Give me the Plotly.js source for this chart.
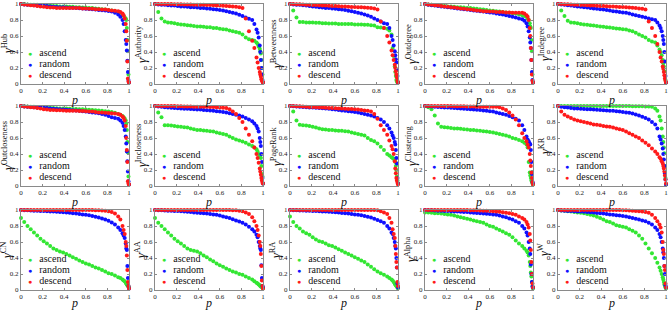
<!DOCTYPE html>
<html><head><meta charset="utf-8">
<script src="https://cdn.plot.ly/plotly-3.0.1.min.js"></script>
<style>html,body{margin:0;padding:0;background:#fff}#chart{width:668px;height:310px}</style>
</head><body><div id="chart"></div>
<script>
const P = [0,.03,.06,.09,.12,.15,.18,.21,.24,.27,.30,.33,.36,.39,.42,.45,.48,.51,.54,.57,.60,.63,.66,.69,.72,.75,.78,.81,.84,.87,.90,.92,.94,.95,.96,.97,.975,.98,.985,.99,.995,1];
const panelNames = ['Hub','Authority','Betweenness','Outdegree','Indegree','Outcloseness','Incloseness','PageRank','Clustering','KR','CN','AA','RA','Alpha','W'];
const seriesNames = ['ascend','random','descend'];
const tickVals = [0,0.2,0.4,0.6,0.8,1];
const tickText = ['0','0.2','0.4','0.6','0.8','1'];

const hubAscend = [1.0,1.0,.995,.99,.99,.99,.985,.98,.98,.98,.975,.975,.97,.97,.97,.965,.965,.96,.96,.955,.955,.95,.95,.945,.94,.935,.93,.925,.92,.91,.90,.89,.87,.85,.83,.82,.80,.70,.55,.41,.12,.02];
const hubRandom = [1.0,.995,.99,.988,.985,.982,.98,.977,.974,.97,.967,.964,.96,.958,.956,.954,.952,.95,.947,.944,.94,.937,.934,.93,.926,.922,.918,.913,.905,.89,.87,.84,.80,.75,.66,.55,.50,.42,.29,.15,.05,.02];
const hubDescend = [1.0,.995,.99,.985,.98,.975,.97,.965,.96,.955,.955,.95,.95,.95,.95,.95,.95,.95,.95,.945,.945,.94,.94,.935,.935,.93,.93,.925,.92,.915,.91,.90,.88,.86,.82,.75,.66,.54,.28,.07,.03,.02];

const authAscend = [1.0,.90,.82,.78,.77,.765,.76,.75,.745,.74,.735,.73,.725,.72,.72,.715,.71,.71,.70,.70,.69,.685,.68,.67,.66,.65,.64,.62,.58,.56,.55,.54,.52,.50,.47,.44,.41,.38,.30,.20,.12,.02];
const authRandom = [1.0,.995,.99,.99,.985,.98,.98,.975,.97,.97,.965,.96,.96,.955,.95,.95,.945,.94,.935,.93,.925,.92,.91,.90,.89,.88,.865,.85,.83,.815,.80,.75,.68,.64,.58,.48,.40,.30,.20,.12,.05,.02];
const authDescend = [1.0,1.0,1.0,1.0,1.0,1.0,.998,.997,.996,.995,.994,.993,.992,.99,.99,.99,.988,.986,.984,.982,.98,.978,.975,.972,.968,.965,.96,.95,.82,.66,.54,.45,.33,.27,.20,.15,.12,.09,.06,.04,.03,.02];

const betwAscend = [1.0,.92,.83,.775,.775,.77,.77,.77,.765,.765,.76,.76,.755,.755,.755,.75,.75,.75,.75,.75,.745,.745,.745,.74,.74,.735,.73,.71,.705,.70,.69,.67,.62,.45,.35,.22,.15,.10,.05,.03,.02,.02];
const betwRandom = [1.0,.995,.99,.99,.985,.98,.975,.97,.965,.96,.955,.95,.95,.945,.94,.935,.93,.925,.915,.91,.90,.89,.88,.87,.855,.84,.82,.80,.78,.76,.75,.70,.60,.55,.48,.41,.36,.31,.27,.18,.10,.02];
const betwDescend = [1.0,1.0,.998,.996,.994,.992,.99,.988,.986,.984,.982,.98,.978,.976,.974,.972,.97,.968,.966,.964,.962,.96,.958,.955,.952,.95,.945,.93,.78,.70,.60,.52,.42,.36,.30,.24,.20,.16,.12,.08,.04,.02];

const outdegAscend = [1.0,.995,.99,.985,.98,.98,.975,.97,.97,.965,.96,.96,.955,.95,.95,.945,.94,.935,.93,.925,.92,.915,.91,.905,.90,.895,.89,.885,.88,.87,.86,.85,.84,.82,.80,.76,.72,.70,.55,.41,.12,.02];
const outdegRandom = [1.0,.99,.985,.98,.975,.97,.965,.96,.955,.95,.945,.94,.935,.93,.925,.92,.915,.91,.905,.90,.895,.89,.88,.875,.87,.86,.85,.84,.83,.82,.81,.79,.76,.72,.66,.58,.52,.45,.30,.15,.05,.02];
const outdegDescend = [1.0,.995,.99,.985,.98,.975,.97,.965,.96,.955,.95,.945,.94,.935,.93,.925,.92,.915,.91,.91,.905,.905,.90,.90,.90,.895,.895,.89,.89,.89,.89,.88,.86,.84,.80,.70,.60,.45,.30,.12,.04,.02];

const indegAscend = [1.0,.92,.85,.79,.77,.765,.76,.75,.745,.74,.735,.73,.725,.72,.715,.71,.705,.70,.695,.69,.685,.68,.67,.66,.64,.62,.60,.58,.55,.53,.52,.48,.43,.40,.36,.30,.26,.22,.16,.10,.05,.02];
const indegRandom = [1.0,.995,.99,.985,.98,.975,.97,.965,.96,.955,.95,.945,.94,.935,.93,.925,.92,.91,.905,.90,.895,.89,.88,.87,.86,.85,.84,.83,.82,.81,.80,.77,.73,.70,.66,.60,.55,.50,.40,.28,.10,.02];
const indegDescend = [1.0,1.0,.998,.996,.994,.992,.99,.988,.986,.984,.982,.98,.978,.976,.974,.972,.97,.968,.966,.964,.962,.96,.957,.954,.95,.945,.94,.93,.78,.70,.60,.50,.40,.33,.28,.22,.19,.15,.11,.07,.04,.02];

const outcloAscend = [1.0,.998,.995,.99,.99,.985,.985,.98,.98,.978,.975,.973,.97,.97,.968,.966,.964,.962,.96,.958,.955,.952,.95,.947,.944,.94,.935,.93,.925,.915,.90,.89,.875,.86,.845,.82,.78,.70,.55,.42,.12,.02];
const outcloRandom = [1.0,.995,.99,.988,.985,.982,.98,.977,.974,.97,.967,.964,.96,.957,.954,.95,.947,.944,.94,.935,.93,.925,.92,.915,.91,.90,.89,.875,.86,.85,.84,.82,.79,.75,.70,.62,.53,.43,.31,.18,.06,.02];
const outcloDescend = [1.0,.995,.99,.985,.98,.975,.97,.96,.955,.95,.95,.948,.946,.944,.942,.94,.94,.94,.938,.936,.934,.932,.93,.925,.92,.918,.915,.912,.91,.905,.90,.89,.87,.85,.82,.75,.60,.45,.30,.06,.03,.02];

const incloAscend = [1.0,.92,.86,.76,.76,.755,.75,.745,.74,.735,.73,.72,.71,.70,.70,.695,.69,.685,.68,.67,.66,.65,.64,.62,.60,.58,.57,.555,.54,.52,.50,.48,.46,.43,.40,.38,.36,.35,.25,.15,.12,.03];
const incloRandom = [1.0,.995,.99,.985,.98,.978,.975,.972,.97,.967,.965,.962,.96,.957,.955,.95,.947,.944,.94,.935,.93,.925,.92,.91,.90,.89,.88,.87,.85,.83,.81,.78,.75,.72,.68,.60,.55,.50,.40,.30,.10,.03];
const incloDescend = [1.0,1.0,1.0,1.0,1.0,1.0,1.0,.998,.996,.995,.994,.993,.992,.991,.99,.99,.99,.988,.986,.984,.98,.978,.975,.96,.93,.90,.85,.80,.72,.64,.56,.48,.40,.35,.29,.22,.18,.14,.10,.07,.04,.03];

const prAscend = [1.0,.93,.82,.765,.76,.755,.75,.74,.73,.72,.71,.705,.70,.70,.695,.69,.69,.685,.68,.67,.66,.65,.64,.63,.60,.575,.56,.53,.49,.45,.40,.38,.36,.35,.34,.32,.30,.25,.20,.12,.07,.03];
const prRandom = [1.0,.998,.995,.99,.988,.985,.982,.98,.977,.974,.971,.968,.965,.96,.955,.95,.945,.94,.935,.93,.925,.92,.91,.90,.89,.88,.87,.85,.83,.80,.76,.72,.67,.63,.60,.55,.52,.45,.35,.28,.10,.03];
const prDescend = [1.0,1.0,.998,.996,.994,.99,.988,.986,.984,.982,.98,.978,.976,.974,.972,.97,.968,.966,.964,.962,.96,.955,.95,.945,.94,.93,.90,.84,.76,.70,.64,.57,.50,.46,.40,.31,.22,.16,.10,.07,.04,.02];

const clusAscend = [1.0,.985,.96,.88,.78,.74,.735,.73,.725,.72,.72,.715,.71,.705,.70,.70,.695,.69,.685,.68,.675,.67,.66,.65,.64,.63,.62,.60,.59,.575,.56,.54,.52,.48,.30,.17,.13,.10,.07,.05,.03,.02];
const clusRandom = [1.0,.998,.995,.99,.988,.985,.982,.98,.977,.974,.972,.97,.967,.964,.96,.957,.954,.95,.945,.94,.935,.93,.92,.91,.90,.89,.875,.86,.84,.82,.76,.70,.62,.58,.56,.53,.52,.45,.30,.15,.05,.03];
const clusDescend = [1.0,1.0,1.0,1.0,1.0,1.0,1.0,1.0,1.0,.998,.998,.997,.996,.995,.994,.993,.992,.991,.99,.99,.99,.99,.99,.985,.97,.95,.92,.88,.83,.76,.66,.60,.56,.52,.48,.40,.32,.25,.17,.10,.05,.02];

const krAscend = [1.0,1.0,1.0,1.0,1.0,1.0,1.0,1.0,1.0,1.0,1.0,1.0,1.0,1.0,1.0,1.0,1.0,1.0,1.0,1.0,1.0,.999,.999,.998,.998,.997,.996,.995,.993,.99,.97,.94,.87,.82,.72,.62,.55,.48,.41,.25,.10,.02];
const krRandom = [1.0,.99,.985,.98,.975,.97,.968,.965,.962,.96,.958,.955,.953,.95,.948,.945,.942,.94,.935,.93,.925,.92,.915,.905,.895,.88,.865,.85,.83,.80,.77,.72,.62,.58,.53,.47,.40,.33,.25,.16,.08,.02];
const krDescend = [1.0,.93,.89,.87,.85,.83,.82,.81,.80,.79,.78,.77,.765,.76,.75,.745,.74,.73,.72,.71,.70,.68,.66,.64,.62,.60,.57,.54,.51,.47,.43,.40,.36,.34,.31,.28,.25,.22,.18,.13,.08,.03];

const cnAscend = [.90,.85,.80,.76,.72,.68,.64,.61,.58,.55,.52,.50,.48,.47,.45,.43,.41,.39,.37,.35,.33,.32,.30,.28,.27,.25,.23,.21,.20,.18,.16,.15,.13,.12,.11,.09,.08,.07,.06,.05,.04,.03];
const cnRandom = [1.0,.998,.996,.994,.992,.99,.988,.986,.984,.982,.98,.977,.974,.971,.968,.965,.96,.955,.95,.945,.94,.935,.925,.915,.905,.895,.88,.865,.845,.82,.78,.75,.71,.68,.65,.58,.52,.50,.30,.15,.05,.02];
const cnDescend = [1.0,1.0,1.0,1.0,1.0,1.0,1.0,1.0,1.0,1.0,1.0,1.0,1.0,1.0,1.0,1.0,1.0,1.0,1.0,1.0,1.0,1.0,1.0,.998,.996,.995,.99,.985,.975,.955,.92,.88,.80,.75,.70,.60,.55,.43,.25,.10,.05,.02];

const aaAscend = [.90,.84,.80,.76,.72,.68,.64,.61,.58,.55,.52,.50,.49,.48,.46,.43,.41,.38,.36,.33,.31,.29,.27,.25,.23,.22,.20,.19,.17,.15,.13,.11,.09,.08,.07,.06,.05,.045,.04,.035,.03,.02];
const aaRandom = [1.0,.998,.996,.994,.992,.99,.988,.986,.984,.98,.977,.974,.97,.967,.964,.96,.955,.95,.945,.94,.93,.92,.91,.90,.885,.87,.855,.84,.82,.79,.76,.73,.69,.66,.60,.55,.52,.50,.31,.15,.05,.03];
const aaDescend = [1.0,1.0,1.0,1.0,1.0,1.0,1.0,1.0,1.0,1.0,1.0,1.0,1.0,1.0,1.0,1.0,1.0,1.0,1.0,1.0,1.0,1.0,1.0,1.0,.998,.996,.99,.985,.97,.95,.91,.86,.80,.75,.68,.60,.55,.45,.30,.12,.05,.02];

const raAscend = [.92,.85,.80,.77,.73,.71,.69,.66,.63,.61,.60,.58,.56,.55,.53,.51,.49,.47,.45,.43,.41,.39,.37,.35,.32,.29,.26,.23,.21,.19,.17,.15,.13,.12,.10,.08,.07,.06,.05,.04,.03,.02];
const raRandom = [1.0,.998,.997,.995,.993,.991,.99,.988,.986,.984,.982,.98,.978,.976,.972,.968,.964,.96,.955,.95,.945,.94,.935,.925,.915,.905,.89,.875,.86,.84,.80,.77,.72,.70,.65,.60,.55,.52,.40,.28,.08,.03];
const raDescend = [1.0,1.0,1.0,1.0,1.0,1.0,1.0,1.0,1.0,1.0,1.0,1.0,1.0,1.0,1.0,1.0,1.0,1.0,1.0,1.0,1.0,1.0,1.0,1.0,1.0,1.0,1.0,.998,.985,.97,.95,.90,.84,.76,.70,.65,.55,.45,.35,.28,.10,.05];

const alphaAscend = [.97,.97,.965,.96,.96,.955,.95,.945,.94,.93,.92,.91,.90,.89,.88,.87,.86,.85,.84,.82,.80,.79,.77,.75,.73,.71,.69,.66,.62,.58,.55,.52,.49,.47,.43,.35,.30,.22,.17,.10,.05,.02];
const alphaRandom = [1.0,.998,.996,.994,.992,.99,.988,.986,.984,.982,.98,.978,.976,.974,.97,.967,.964,.96,.957,.953,.95,.945,.94,.93,.92,.91,.895,.88,.86,.84,.80,.77,.72,.68,.60,.52,.45,.32,.20,.10,.04,.03];
const alphaDescend = [1.0,1.0,1.0,1.0,1.0,1.0,1.0,1.0,1.0,1.0,1.0,1.0,1.0,.999,.998,.997,.996,.994,.992,.99,.988,.985,.982,.978,.972,.965,.958,.95,.94,.92,.90,.88,.85,.82,.78,.70,.62,.50,.35,.20,.08,.03];

const wAscend = [1.0,.995,.99,.985,.98,.975,.97,.965,.96,.95,.94,.93,.915,.90,.88,.86,.85,.83,.81,.80,.79,.78,.76,.74,.72,.68,.64,.58,.52,.46,.40,.34,.28,.24,.20,.16,.13,.10,.07,.05,.03,.02];
const wRandom = [1.0,.995,.99,.988,.986,.984,.982,.98,.978,.975,.972,.968,.964,.96,.955,.95,.945,.94,.935,.93,.925,.92,.91,.90,.89,.88,.87,.86,.84,.82,.78,.75,.70,.66,.60,.52,.47,.40,.30,.20,.06,.03];
const wDescend = [1.0,1.0,1.0,1.0,1.0,1.0,1.0,1.0,1.0,1.0,1.0,1.0,1.0,1.0,1.0,1.0,1.0,1.0,1.0,1.0,.998,.996,.994,.99,.988,.985,.98,.975,.965,.94,.90,.86,.82,.78,.72,.60,.50,.45,.30,.25,.08,.03];

const panelData = [
  [hubAscend,hubRandom,hubDescend],
  [authAscend,authRandom,authDescend],
  [betwAscend,betwRandom,betwDescend],
  [outdegAscend,outdegRandom,outdegDescend],
  [indegAscend,indegRandom,indegDescend],
  [outcloAscend,outcloRandom,outcloDescend],
  [incloAscend,incloRandom,incloDescend],
  [prAscend,prRandom,prDescend],
  [clusAscend,clusRandom,clusDescend],
  [krAscend,krRandom,krDescend],
  [cnAscend,cnRandom,cnDescend],
  [aaAscend,aaRandom,aaDescend],
  [raAscend,raRandom,raDescend],
  [alphaAscend,alphaRandom,alphaDescend],
  [wAscend,wRandom,wDescend]
];

// styles / layout
const COLORS = ['#33e633','#1010ff','#ff1a1a'];
const W = 668, H = 310;
const colLeft = [21,155,290,425,558];
const plotW = 108;
const rowTop = [4,106,210];
const plotH = 80;
const SERIF = 'Liberation Serif, Times New Roman, serif';
const AXCOL = '#8a8a8a';
const LEG_Y = [0.395, 0.255, 0.115];

const traces = [];
const layout = {
  width: W, height: H,
  margin: {l:0,r:0,t:0,b:0},
  paper_bgcolor: '#fff', plot_bgcolor: '#fff',
  showlegend: false,
  annotations: []
};

panelNames.forEach((name, i) => {
  const n = i + 1;
  const sfx = n === 1 ? '' : String(n);
  const row = Math.floor(i / 5), col = i % 5;
  const x0 = colLeft[col] / W, x1 = (colLeft[col] + plotW) / W;
  const yTop = 1 - rowTop[row] / H, yBot = 1 - (rowTop[row] + plotH) / H;
  const common = {
    range: [0, 1], tickvals: tickVals, ticktext: tickText,
    ticks: 'inside', ticklen: 2, tickwidth: 1, tickcolor: AXCOL,
    showline: true, mirror: 'ticks', linecolor: AXCOL, linewidth: 1,
    showgrid: false, zeroline: false, automargin: false, fixedrange: true,
    ticklabeloverflow: 'allow',
    tickfont: {family: SERIF, size: 7, color: '#222'}
  };
  layout['xaxis' + sfx] = Object.assign({}, common, {
    domain: [x0, x1], anchor: 'y' + sfx,
    title: {text: '<i>p</i>', font: {family: SERIF, size: 12, color: '#111'}, standoff: 1}
  });
  layout['yaxis' + sfx] = Object.assign({}, common, {
    domain: [yBot, yTop], anchor: 'x' + sfx
  });
  // y-axis title (placed beside the axis)
  layout.annotations.push({
    xref: 'x' + sfx + ' domain', yref: 'y' + sfx + ' domain',
    x: 0, y: 0.5, xshift: -14, xanchor: 'center', yanchor: 'middle',
    textangle: -90, showarrow: false, borderpad: 0,
    text: '<i>γ</i><sup>' + name + '</sup>',
    font: {family: SERIF, size: 12, color: '#111'}
  });
  panelData[i].forEach((ys, s) => {
    traces.push({
      type: 'scatter', mode: 'markers', name: seriesNames[s],
      x: P, y: ys, xaxis: 'x' + sfx, yaxis: 'y' + sfx,
      cliponaxis: false,
      marker: {color: COLORS[s], size: 4, line: {width: 0}},
      hoverinfo: 'skip'
    });
    layout.annotations.push({
      xref: 'x' + sfx + ' domain', yref: 'y' + sfx + ' domain',
      x: 0.06, y: LEG_Y[s],
      xanchor: 'left', yanchor: 'middle', showarrow: false, align: 'left', borderpad: 0,
      text: '<span style="color:' + COLORS[s] + ';font-size:7px">●</span>\u2002\u2009' + seriesNames[s],
      font: {family: SERIF, size: 10, color: '#111'}
    });
  });
});

Plotly.newPlot('chart', traces, layout, {staticPlot: true, displayModeBar: false});
</script>
</body></html>
